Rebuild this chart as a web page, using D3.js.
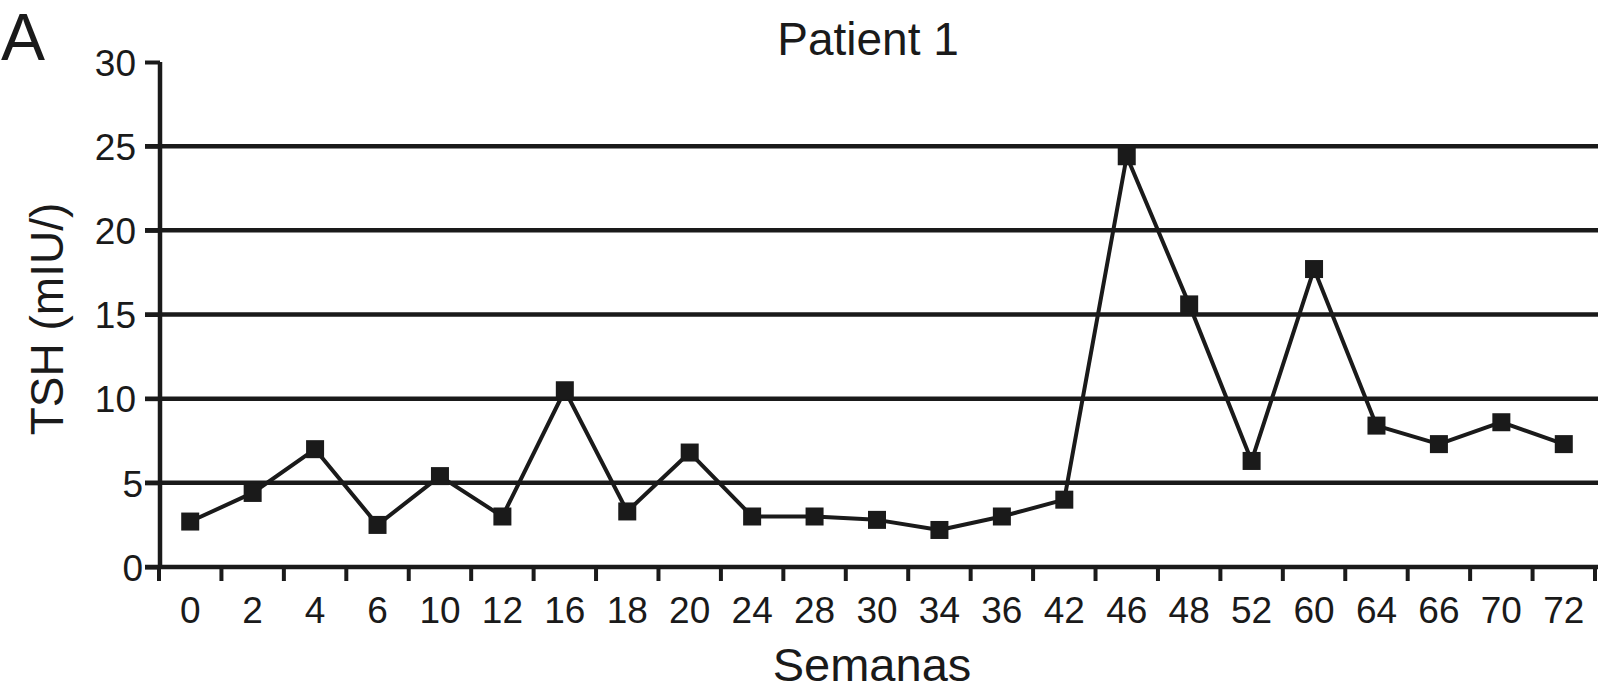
<!DOCTYPE html>
<html>
<head>
<meta charset="utf-8">
<script src="https://cdn.jsdelivr.net/npm/d3@7"></script>
<style>
    body { margin: 0; background: #fff; }
    svg text { font-family: "Liberation Sans", Arial, sans-serif; fill: #1a1a1a; }
</style>
</head>
<body>
<div id="chart"></div>
<script>
// weeks (categories on x)
var weeks = ["0","2","4","6","10","12","16","18","20","24","28","30","34","36","42","46","48","52","60","64","66","70","72"]
// TSH values
var tsh = [2.7, 4.4, 7.0, 2.5, 5.4, 3.0, 10.5, 3.3, 6.8, 3.0, 3.0, 2.8, 2.2, 3.0, 4.0, 24.4, 15.6, 6.3, 17.7, 8.4, 7.3, 8.6, 7.3]
var yTicks = [0, 5, 10, 15, 20, 25, 30]
var gridValues = [0, 5, 10, 15, 20, 25]

var width = 1598
var height = 694
var ink = "#1a1a1a"

var svg = d3.select("#chart")
    .append("svg")
        .attr("width", width)
        .attr("height", height)

// scales
var x = d3.scaleBand()
    .domain(weeks)
    .range([159, 1595])

var y = d3.scaleLinear()
    .domain([0, 30])
    .range([567, 62])

// gridlines (and the x axis line at 0)
svg.append("g")
    .selectAll("line")
    .data(gridValues)
    .enter()
    .append("line")
        .attr("x1", 145)
        .attr("x2", width)
        .attr("y1", d => y(d))
        .attr("y2", d => y(d))
        .attr("stroke", ink)
        .attr("stroke-width", 4.5)

// y axis
var yAxis = svg.append("g")
    .attr("transform", "translate(160,0)")
    .call(d3.axisLeft(y).tickValues(yTicks).tickSize(15).tickPadding(9))
yAxis.select(".domain")
    .attr("stroke", ink)
    .attr("stroke-width", 4.5)
    .attr("d", "M0," + y(30) + "V" + y(0))
yAxis.selectAll(".tick line")
    .attr("stroke", ink)
    .attr("stroke-width", 4)
yAxis.selectAll(".tick text")
    .style("font-size", "37px")
    .attr("dy", "0.36em")
    .attr("dx", d => d < 10 ? 7 : 0)

// x tick marks sit on the band edges
var edges = weeks.map(d => x(d)).concat([x.range()[1]])
svg.append("g")
    .selectAll("line")
    .data(edges)
    .enter()
    .append("line")
        .attr("x1", d => d)
        .attr("x2", d => d)
        .attr("y1", y(0))
        .attr("y2", y(0) + 14)
        .attr("stroke", ink)
        .attr("stroke-width", 4)

// x labels at band centres
var xAxis = svg.append("g")
    .attr("transform", "translate(0," + y(0) + ")")
    .call(d3.axisBottom(x).tickSize(0).tickPadding(30))
xAxis.select(".domain").remove()
xAxis.selectAll(".tick text")
    .style("font-size", "37px")

// series line
var line = d3.line()
    .x((d, i) => x(weeks[i]) + x.bandwidth() / 2)
    .y(d => y(d))

svg.append("path")
    .datum(tsh)
    .attr("fill", "none")
    .attr("stroke", ink)
    .attr("stroke-width", 4)
    .attr("stroke-linejoin", "round")
    .attr("d", line)

// square markers
var size = 18
svg.append("g")
    .selectAll("rect")
    .data(tsh)
    .enter()
    .append("rect")
        .attr("x", (d, i) => x(weeks[i]) + x.bandwidth() / 2 - size / 2)
        .attr("y", d => y(d) - size / 2)
        .attr("width", size)
        .attr("height", size)
        .attr("fill", ink)

// titles
svg.append("text")
    .attr("x", 868)
    .attr("y", 55)
    .attr("text-anchor", "middle")
    .style("font-size", "46px")
    .text("Patient 1")

svg.append("text")
    .attr("x", 872)
    .attr("y", 681)
    .attr("text-anchor", "middle")
    .style("font-size", "47px")
    .text("Semanas")

svg.append("text")
    .attr("transform", "translate(63,319) rotate(-90)")
    .attr("text-anchor", "middle")
    .style("font-size", "46px")
    .text("TSH (mIU/)")

svg.append("text")
    .attr("x", 1)
    .attr("y", 60)
    .style("font-size", "66px")
    .text("A")
</script>
</body>
</html>
